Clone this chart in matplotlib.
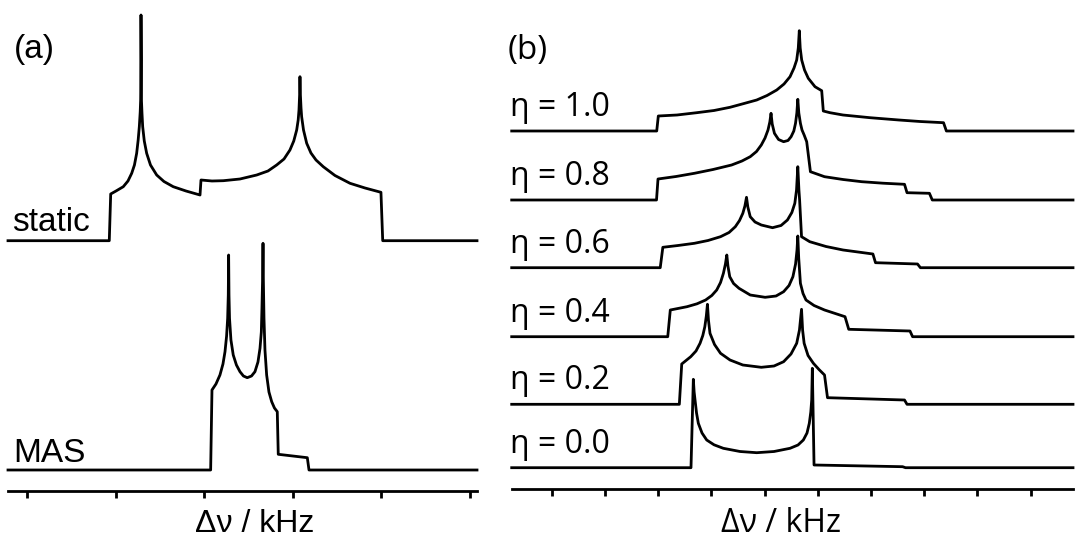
import numpy as np
import matplotlib.pyplot as plt

W, H = 1075, 538

# ---- panel (a): x in tick units, y = intensity above the trace baseline ----
static_x = [-0.214, 0.929, 0.945, 1.005, 1.087, 1.140, 1.182, 1.213, 1.238, 1.255,
            1.268, 1.278, 1.283, 1.287, 1.287, 1.289, 1.292, 1.298, 1.306, 1.324,
            1.351, 1.394, 1.464, 1.546, 1.651, 1.795, 1.953, 1.964, 2.088, 2.216,
            2.404, 2.593, 2.720, 2.818, 2.901, 2.968, 3.011, 3.044, 3.061, 3.070,
            3.077, 3.081, 3.086, 3.093, 3.100, 3.121, 3.157, 3.205, 3.262, 3.344,
            3.476, 3.646, 3.815, 3.995, 4.015, 5.079]
static_y = [0, 0, 4.67, 4.97, 5.40, 5.97, 6.74, 7.57, 8.74, 10.07,
            11.40, 12.87, 14.07, 18.07, 22.57, 18.07, 14.07, 12.77, 11.40, 9.97,
            8.74, 7.57, 6.57, 5.92, 5.40, 4.97, 4.57, 6.07, 5.97, 6.00,
            6.17, 6.57, 6.97, 7.57, 8.17, 9.07, 9.97, 11.07, 12.07, 13.07,
            14.57, 16.40, 14.57, 13.27, 12.40, 11.07, 9.74, 8.77, 8.07, 7.40,
            6.52, 5.74, 5.27, 4.84, 0, 0]

mas_x = [-0.214, 2.073, 2.088, 2.133, 2.178, 2.212, 2.235, 2.253, 2.265, 2.272,
         2.276, 2.280, 2.286, 2.302, 2.328, 2.364, 2.404, 2.443, 2.486, 2.534,
         2.573, 2.607, 2.630, 2.645, 2.652, 2.659, 2.664, 2.668, 2.675, 2.686,
         2.705, 2.731, 2.762, 2.793, 2.825, 2.836, 3.164, 3.183, 5.079]
mas_y = [0, 0, 8.0, 8.6, 9.5, 10.6, 11.83, 13.4, 15.17, 17.5,
         21.5, 17.5, 15.17, 13.0, 11.5, 10.5, 9.83, 9.4, 9.23, 9.4,
         9.83, 10.8, 12.17, 13.8, 16.17, 19.0, 22.67, 19.0, 15.17, 12.0,
         9.5, 7.8, 6.83, 6.2, 5.83, 1.57, 1.23, 0, 0]

a_labels = ['static', 'MAS']
a_offsets = [25.0, 2.07]

# ---- panel (b): eta series ----
eta_labels = ['η = 1.0', 'η = 0.8', 'η = 0.6', 'η = 0.4', 'η = 0.2', 'η = 0.0']
eta_offsets = [35.83, 28.93, 22.16, 15.26, 8.50, 2.16]

eta10_x = [-0.752, 1.973, 2.003, 2.354, 2.725, 3.050, 3.350, 3.613, 3.852, 4.046,
           4.228, 4.365, 4.478, 4.553, 4.603, 4.633, 4.652, 4.669, 4.697, 4.750,
           4.821, 4.947, 5.073, 5.103, 5.229, 5.473, 5.981, 6.524, 6.920, 7.362,
           7.416, 9.795]
eta10_y = [0, 0, 1.5, 1.6, 1.83, 2.05, 2.37, 2.75, 3.1, 3.55,
           4.1, 4.7, 5.43, 6.3, 7.1, 8.3, 10.03, 8.3, 7.1, 6.1,
           5.27, 4.43, 4.03, 2.0, 1.83, 1.6, 1.33, 1.1, 0.95, 0.83,
           0, 0]

eta08_x = [-0.752, 1.969, 1.997, 2.336, 2.681, 3.031, 3.380, 3.575, 3.730, 3.848,
           3.938, 4.008, 4.064, 4.098, 4.121, 4.143, 4.185, 4.262, 4.357, 4.440,
           4.498, 4.549, 4.581, 4.606, 4.624, 4.643, 4.673, 4.703, 4.743, 4.791,
           4.861, 5.126, 5.474, 5.825, 6.225, 6.629, 6.676, 7.097, 7.151, 9.795]
eta08_y = [0, 0, 2.1, 2.35, 2.67, 3.05, 3.5, 3.9, 4.33, 4.85,
           5.5, 6.2, 7.0, 7.8, 8.67, 7.6, 6.67, 6.05, 5.83, 5.95,
           6.33, 6.9, 7.67, 8.7, 10.07, 8.7, 7.67, 7.0, 6.5, 5.83,
           2.83, 2.33, 2.05, 1.83, 1.68, 1.57, 0.73, 0.67, 0, 0]

eta06_x = [-0.752, 2.039, 2.088, 2.373, 2.681, 2.937, 3.172, 3.332, 3.450, 3.529,
           3.591, 3.630, 3.660, 3.685, 3.730, 3.820, 3.938, 4.149, 4.309, 4.429,
           4.512, 4.568, 4.600, 4.624, 4.645, 4.658, 4.694, 4.848, 5.154, 5.475,
           6.035, 6.084, 6.873, 6.928, 9.795]
eta06_y = [0, 0, 2.04, 2.22, 2.44, 2.72, 3.1, 3.52, 4.1, 4.72,
           5.44, 6.17, 7.04, 6.07, 5.1, 4.57, 4.27, 4.0, 4.22, 4.77,
           5.52, 6.44, 7.77, 10.1, 7.77, 6.77, 3.1, 2.6, 2.12, 1.77,
           1.37, 0.5, 0.37, 0, 0]

eta04_x = [-0.752, 2.180, 2.228, 2.542, 2.730, 2.892, 3.008, 3.100, 3.172, 3.226,
           3.264, 3.290, 3.311, 3.345, 3.417, 3.519, 3.730, 4.010, 4.215, 4.357,
           4.459, 4.532, 4.582, 4.609, 4.624, 4.641, 4.673, 4.722, 4.778, 4.929,
           5.126, 5.511, 5.581, 6.732, 6.781, 9.795]
eta04_y = [0, 0, 2.67, 3.0, 3.29, 3.67, 4.12, 4.67, 5.42, 6.34,
           7.27, 8.17, 7.07, 6.0, 5.32, 4.84, 4.17, 3.94, 4.07, 4.5,
           5.12, 6.0, 7.27, 8.67, 10.07, 7.87, 5.34, 4.32, 3.67, 3.12,
           2.67, 2.0, 0.74, 0.57, 0, 0]

eta02_x = [-0.752, 2.398, 2.443, 2.612, 2.711, 2.787, 2.839, 2.877, 2.905, 2.926,
           2.945, 2.974, 3.059, 3.172, 3.350, 3.591, 3.938, 4.177, 4.357, 4.496,
           4.603, 4.655, 4.694, 4.714, 4.743, 4.816, 4.917, 5.022, 5.126, 5.182,
           6.629, 6.676, 9.795]
eta02_y = [0, 0, 4.03, 4.76, 5.33, 6.1, 6.88, 7.76, 8.83, 10.0,
           8.43, 7.1, 5.98, 5.1, 4.43, 3.93, 3.7, 3.83, 4.26, 5.03,
           6.1, 7.43, 9.5, 7.43, 6.1, 4.88, 4.1, 3.48, 2.93, 0.66,
           0.43, 0, 0]

eta00_x = [-0.752, 2.617, 2.661, 2.676, 2.693, 2.721, 2.755, 2.824, 2.912, 3.050,
           3.224, 3.538, 3.852, 4.177, 4.478, 4.628, 4.728, 4.797, 4.840, 4.868,
           4.885, 4.897, 4.929, 6.593, 6.648, 9.795]
eta00_y = [0, 0, 8.84, 7.57, 6.77, 5.47, 4.44, 3.47, 2.77, 2.29,
           1.94, 1.62, 1.5, 1.62, 1.94, 2.27, 2.77, 3.47, 4.44, 5.57,
           6.77, 9.94, 0.27, 0.1, 0, 0]

eta_x = [eta10_x, eta08_x, eta06_x, eta04_x, eta02_x, eta00_x]
eta_y = [eta10_y, eta08_y, eta06_y, eta04_y, eta02_y, eta00_y]

LW = 2.0
font_a = ['Liberation Sans', 'DejaVu Sans']
font_b = ['Open Sans', 'DejaVu Sans']

fig = plt.figure(figsize=(W / 100, H / 100), dpi=100)


def px(x, y):
    return x / W, 1 - y / H


def style_axis(ax, nticks):
    for s in ['top', 'left', 'right']:
        ax.spines[s].set_visible(False)
    ax.spines['bottom'].set_linewidth(LW)
    ax.set_xticks(range(nticks))
    ax.set_xticklabels([])
    ax.set_yticks([])
    ax.tick_params(axis='x', direction='out', length=5, width=LW)
    ax.patch.set_alpha(0)


# panel (a)
ax_a = fig.add_axes([8 / W, 47.3 / H, 469 / W, 490.7 / H])
ax_a.set_xlim(-0.214, 5.079)
ax_a.set_ylim(0, 49.07)
style_axis(ax_a, 6)
for xs, ys, off in zip([static_x, mas_x], [static_y, mas_y], a_offsets):
    ax_a.plot(xs, np.array(ys) + off, color='black', lw=LW, clip_on=False)

fig.text(*px(14, 58), '(a)', family=font_a, fontsize=24, va='baseline')
fig.text(*px(11.7, 231), a_labels[0], family=font_a, fontsize=24, va='baseline')
fig.text(*px(13.3, 462), a_labels[1], family=font_a, fontsize=24, va='baseline')
fig.text(*px(255, 532), 'Δν / kHz', family=font_a, fontsize=23,
         va='baseline', ha='center')

# panel (b)
ax_b = fig.add_axes([511.7 / W, 48.7 / H, 561.3 / W, 489.3 / H])
ax_b.set_xlim(-0.752, 9.795)
ax_b.set_ylim(0, 48.93)
style_axis(ax_b, 10)
for xs, ys, off, lab in zip(eta_x, eta_y, eta_offsets, eta_labels):
    ax_b.plot(xs, np.array(ys) + off, color='black', lw=LW, clip_on=False)
    base_px = 489.3 - off * 10
    fig.text(*px(510, base_px - 15), lab, family=font_b, fontsize=23,
             va='baseline')

fig.text(*px(508, 59), '(b)', family=font_b, fontsize=24, va='baseline')
fig.text(*px(781, 532), 'Δν / kHz', family=font_b, fontsize=23,
         va='baseline', ha='center')

fig.savefig('out.png', dpi=100)
